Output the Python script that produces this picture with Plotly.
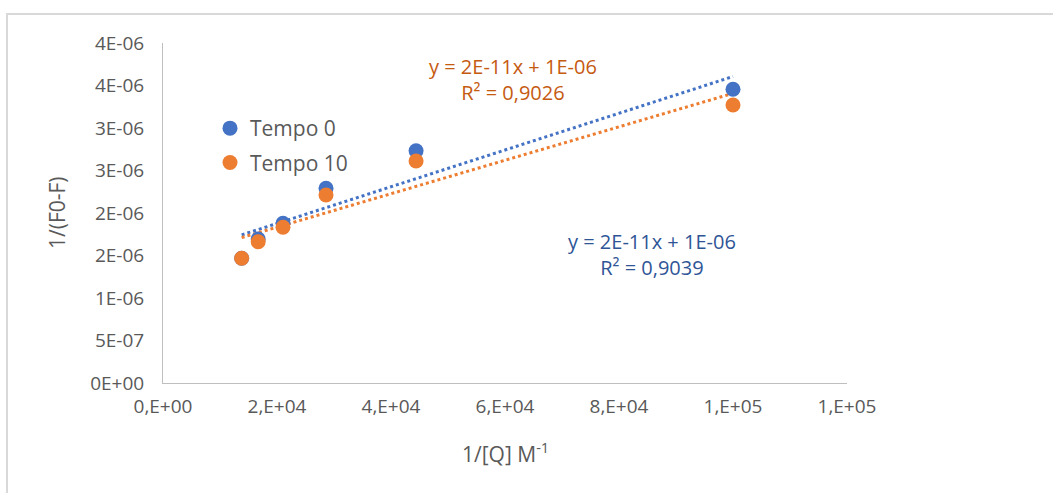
import numpy as np
import plotly.graph_objects as go

# Data
x_vals = [13.8e3, 16.7e3, 21.05e3, 28.6e3, 44.4e3, 100.0e3]
tempo0 = [1.467e-6, 1.694e-6, 1.879e-6, 2.291e-6, 2.733e-6, 3.455e-6]
tempo10 = [1.467e-6, 1.662e-6, 1.832e-6, 2.212e-6, 2.612e-6, 3.271e-6]

x_ticks = [0, 2e4, 4e4, 6e4, 8e4, 1e5, 1.2e5]
x_ticktext = ["0,E+00", "2,E+04", "4,E+04", "6,E+04", "8,E+04", "1,E+05", "1,E+05"]
y_ticks = [0, 5e-7, 1e-6, 1.5e-6, 2e-6, 2.5e-6, 3e-6, 3.5e-6, 4e-6]
y_ticktext = ["0E+00", "5E-07", "1E-06", "2E-06", "2E-06", "3E-06", "3E-06", "4E-06", "4E-06"]

eq0 = "y = 2E-11x + 1E-06<br>R² = 0,9039"
eq10 = "y = 2E-11x + 1E-06<br>R² = 0,9026"

BLUE = "#4472C4"
ORANGE = "#ED7D31"
FONT = "Open Sans"
GREY = "#595959"

fig = go.Figure()

xa = np.array(x_vals)
xl = np.array([xa.min(), xa.max()])
for ys, col in [(tempo0, BLUE), (tempo10, ORANGE)]:
    m, b = np.polyfit(xa, np.array(ys), 1)
    fig.add_trace(go.Scatter(x=xl, y=m * xl + b, mode="lines",
                             line=dict(color=col, width=3, dash="dot"),
                             showlegend=False, hoverinfo="skip"))

fig.add_trace(go.Scatter(x=x_vals, y=tempo0, mode="markers", name="Tempo 0",
                         legendgroup="a",
                         marker=dict(color=BLUE, size=15)))
fig.add_trace(go.Scatter(x=x_vals, y=tempo10, mode="markers", name="Tempo 10",
                         legendgroup="b",
                         marker=dict(color=ORANGE, size=15)))

L, R, T, B = 163, 1053 - 847, 43, 493 - 383
PW, PH = 1053 - L - R, 493 - T - B

def px_x(p):
    return (p - L) / PW

def px_y(p):
    return (493 - B - p) / PH

fig.update_layout(
    width=1053, height=493,
    margin=dict(l=L, r=R, t=T, b=B, pad=0),
    paper_bgcolor="white", plot_bgcolor="white",
    font=dict(family=FONT, color=GREY, size=19),
    xaxis=dict(range=[0, 1.2e5], tickvals=x_ticks, ticktext=x_ticktext,
               showgrid=False, zeroline=False, showline=True,
               linecolor="#BFBFBF", linewidth=1, ticks="",
               ticklabelstandoff=6,
               tickfont=dict(size=19, color=GREY, family=FONT)),
    yaxis=dict(range=[0, 4e-6], tickvals=y_ticks, ticktext=y_ticktext,
               showgrid=False, zeroline=False, showline=True,
               linecolor="#BFBFBF", linewidth=1, ticks="",
               ticklabelstandoff=14,
               tickfont=dict(size=19, color=GREY, family=FONT)),
    legend=dict(x=px_x(210), y=px_y(108), xanchor="left", yanchor="top",
                bgcolor="rgba(0,0,0,0)", font=dict(size=21, color=GREY, family=FONT),
                tracegroupgap=4, itemsizing="trace", itemwidth=30),
    showlegend=True,
)

ann_common = dict(xref="paper", yref="paper", showarrow=False,
                  xanchor="center", yanchor="middle")
fig.add_annotation(x=px_x(513), y=px_y(80), text=eq10, align="center",
                   font=dict(size=20, color="#C55A11", family=FONT), **ann_common)
fig.add_annotation(x=px_x(652), y=px_y(254), text=eq0, align="center",
                   font=dict(size=20, color="#2F5597", family=FONT), **ann_common)
fig.add_annotation(x=px_x(57), y=px_y(213), text="1/(F0-F)", textangle=-90,
                   font=dict(size=21, color=GREY, family=FONT), **ann_common)
fig.add_annotation(x=px_x(505), y=px_y(452), text="1/[Q] M<sup>-1</sup>",
                   font=dict(size=21, color=GREY, family=FONT), **ann_common)

fig.add_shape(type="rect", xref="paper", yref="paper",
              x0=px_x(7), y0=px_y(14), x1=px_x(1200), y1=px_y(700),
              line=dict(color="#D9D9D9", width=2), fillcolor="rgba(0,0,0,0)",
              layer="below")

fig.write_html("out.html")
